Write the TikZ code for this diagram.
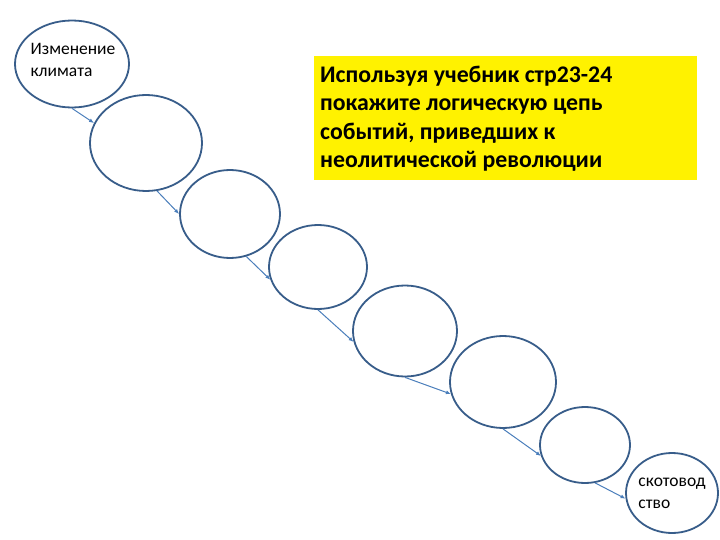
\documentclass[tikz,border=0pt]{standalone}
\usepackage{fontspec}
\setmainfont{Carlito}
\usetikzlibrary{shapes.geometric,arrows.meta}
\definecolor{ringblue}{HTML}{385D8A}
\definecolor{linkblue}{HTML}{4A7EBB}
\tikzset{
  oval/.style={ellipse,draw=ringblue,line width=1.8pt,inner sep=0pt,fill=white},
  link/.style={draw=linkblue,line width=1pt,-{Latex[length=5pt,width=4pt]}},
  ovaltext/.style={align=left,font=\fontsize{17.5}{22}\selectfont,inner sep=0pt}
}
\begin{document}
\begin{tikzpicture}[x=1pt,y=-1pt]
\useasboundingbox (0,0) rectangle (720,540);
\node[fill=yellow,minimum width=383pt,minimum height=124pt,inner sep=0pt] (box) at (505.5,118) {};
\node[anchor=north west,align=left,inner sep=0pt,font=\bfseries\fontsize{23.8}{28.3}\selectfont] (boxtext) at (320,66)
  {Используя учебник стр23-24\\покажите логическую цепь\\событий, приведших к\\неолитической революции};
\node[oval,minimum width=114pt,minimum height=87pt] (e1) at (72,64) {};
\node[oval,minimum width=112pt,minimum height=96pt] (e2) at (146,143) {};
\node[oval,minimum width=100pt,minimum height=88pt] (e3) at (230,214) {};
\node[oval,minimum width=98pt,minimum height=84pt] (e4) at (318,267) {};
\node[oval,minimum width=104pt,minimum height=91pt] (e5) at (405,331) {};
\node[oval,minimum width=106pt,minimum height=92pt] (e6) at (503,382) {};
\node[oval,minimum width=90pt,minimum height=76pt] (e7) at (585,445) {};
\node[oval,minimum width=92pt,minimum height=80pt] (e8) at (672,493) {};
\node[ovaltext] (t1) at (73,60) {Изменение\\климата};
\node[ovaltext] (t8) at (e8) {скотовод\\ство};
\draw[link] (e1.south) -- (e2.159);
\draw[link] (e2.-77) -- (e3.180);
\draw[link] (e3.-69) -- (e4.195);
\draw[link] (e4.south) -- (e5.192);
\draw[link] (e5.south) -- (e6.193);
\draw[link] (e6.south) -- (e7.194);
\draw[link] (e7.-75) -- (e8.187);
\end{tikzpicture}
\end{document}
